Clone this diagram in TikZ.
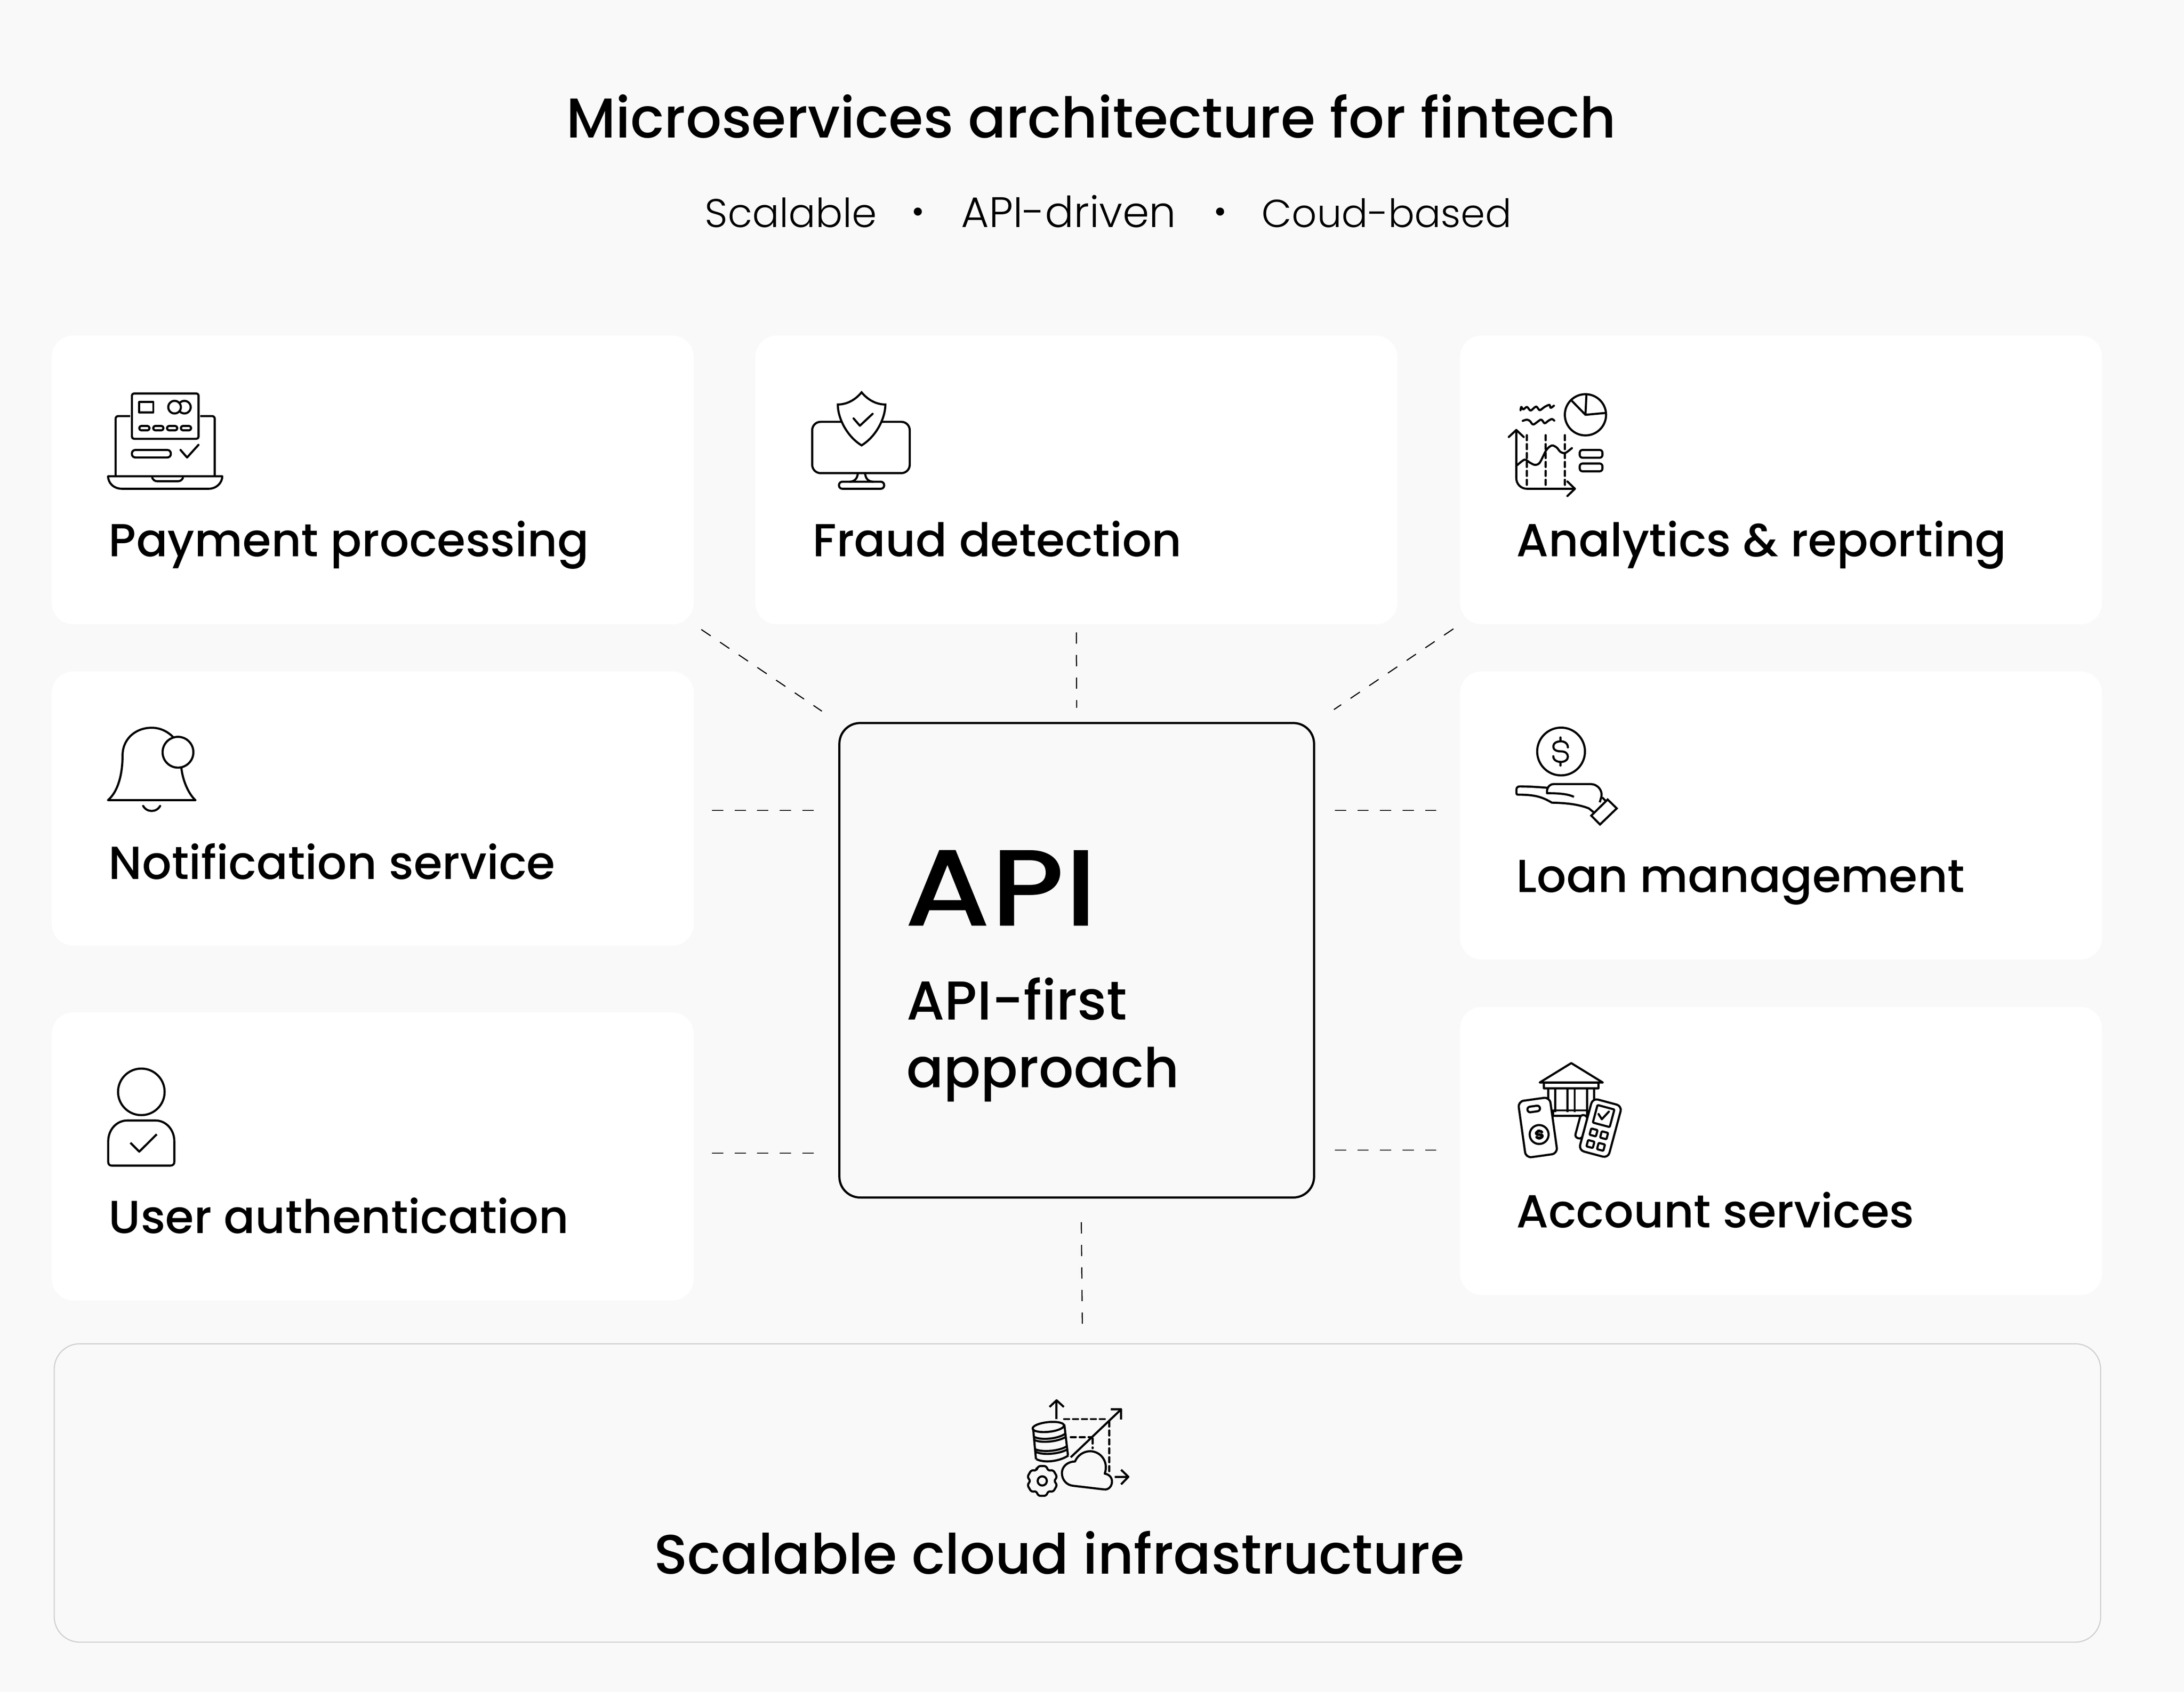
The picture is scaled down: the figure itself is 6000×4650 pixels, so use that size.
\documentclass[tikz,border=0pt]{standalone}
\usepackage{fontspec}
\setmainfont{Poppins}
\newfontfamily\medfont{Poppins}[UprightFont=* Medium]
\newfontfamily\widefont{Poppins}[UprightFont=* Medium,FakeStretch=1.14]
\newfontfamily\lightfont{Poppins}[UprightFont=* Light]
\definecolor{pagebg}{HTML}{F9F9F9}
\definecolor{cloudline}{HTML}{CFCFCF}
\tikzset{
  card/.style={fill=white, rounded corners=6mm, inner sep=0pt, outer sep=0pt, anchor=north west},
  cardtext/.style={anchor=base west, inner sep=0pt, font=\medfont\fontsize{36.2}{40}\selectfont},
  subtext/.style={anchor=base west, inner sep=0pt},
  subdot/.style={anchor=base, inner sep=0pt, font=\medfont\fontsize{24}{28}\selectfont},
  link/.style={line width=0.3mm, dash pattern=on 3.1mm off 3.1mm},
  icon/.style 2 args={shift={(#1,#2)}, x=0.03333mm, y=-0.03333mm, line width=0.58mm, line join=round},
  icondash/.style={dash pattern=on 1.4mm off 1.05mm, line cap=round},
}
\begin{document}
\begin{tikzpicture}[x=0.1mm, y=-0.1mm]
\fill[pagebg] (0,0) rectangle (6000,4650);
\useasboundingbox (0,0) rectangle (6000,4650);

\node[anchor=base, inner sep=0pt, font=\medfont\fontsize{43.9}{50}\selectfont] (title) at (2998,379) {Microservices architecture for fintech};
\node[subtext, font=\lightfont\fontsize{31.3}{38}\selectfont] (subone) at (1936,625) {Scalable};
\node[subdot] (dotone) at (2522,610) {•};
\node[subtext, font=\lightfont\fontsize{33.4}{38}\selectfont] (subtwo) at (2640,625) {API-driven};
\node[subdot] (dottwo) at (3352,610) {•};
\node[subtext, font=\lightfont\fontsize{30.5}{38}\selectfont] (subthree) at (3466,625) {Coud-based};

% cards
\node[card, minimum width=176.4mm, minimum height=79.4mm] (pay) at (142,922) {};
\node[card, minimum width=176.4mm, minimum height=79.4mm] (fraud) at (2075,922) {};
\node[card, minimum width=176.4mm, minimum height=79.4mm] (stats) at (4011,922) {};
\node[card, minimum width=176.4mm, minimum height=75.4mm] (notify) at (142,1845) {};
\node[card, minimum width=176.4mm, minimum height=79.2mm] (loan) at (4011,1845) {};
\node[card, minimum width=176.4mm, minimum height=79.2mm] (user) at (142,2782) {};
\node[card, minimum width=176.4mm, minimum height=79.2mm] (account) at (4011,2767) {};
\node[draw=black, fill=pagebg, line width=0.6mm, rounded corners=5.7mm, minimum width=130.4mm, minimum height=130.4mm, inner sep=0pt, outer sep=0pt, anchor=north west] (api) at (2306,1987) {};
\node[draw=cloudline, fill=pagebg, line width=0.3mm, rounded corners=7mm, minimum width=562.2mm, minimum height=82mm, inner sep=0pt, outer sep=0pt, anchor=north west] (cloud) at (149,3693) {};

\node[cardtext] (paytext) at (298,1530) {Payment processing};
\node[cardtext] (fraudtext) at (2232,1530) {Fraud detection};
\node[cardtext] (statstext) at (4165,1530) {Analytics \& reporting};
\node[cardtext] (notifytext) at (298,2416) {Notification service};
\node[cardtext] (loantext) at (4165,2452) {Loan management};
\node[cardtext] (usertext) at (298,3389) {User authentication};
\node[cardtext] (accounttext) at (4165,3374) {Account services};
\node[anchor=base, inner sep=0pt, font=\medfont\fontsize{43.4}{50}\selectfont] (cloudtext) at (2910,4325) {Scalable cloud infrastructure};
\node[anchor=base west, inner sep=0pt, font=\widefont\fontsize{85}{90}\selectfont] (apitext) at (2484,2545) {API};
\node[anchor=north west, align=left, inner sep=0pt, font=\medfont\fontsize{42.8}{52.7}\selectfont] (apisub) at (2490,2686) {API-first\\approach};

% connectors
\draw[link, shorten <=2.5mm, shorten >=5.8mm] (pay.south east) -- (api.north west);
\draw[link, shorten <=2.2mm, shorten >=4.2mm] (fraud.south) -- (api.north);
\draw[link, shorten <=2.2mm, shorten >=6.6mm] (stats.south west) -- (api.north east);
\draw[link, shorten <=5mm, shorten >=6.9mm] ([yshift=-0.5mm]notify.east) -- ([yshift=-0.5mm]notify.east -| api.west);
\draw[link, shorten <=5mm, shorten >=6.9mm] ([yshift=0.9mm]user.east) -- ([yshift=0.9mm]user.east -| api.west);
\draw[link, shorten <=6.5mm, shorten >=5.4mm] ([yshift=1.4mm]loan.west) -- ([yshift=1.4mm]loan.west -| api.east);
\draw[link, shorten <=6.5mm, shorten >=5.4mm] ([yshift=0.2mm]account.west) -- ([yshift=0.2mm]account.west -| api.east);
\draw[link, shorten <=6.8mm, shorten >=5.5mm] ([xshift=1.2mm]api.south) -- ([xshift=1.4mm]cloud.north);

% laptop
\begin{scope}[icon={250}{1020}]
  \draw[rounded corners=0.6mm] (337,184) rectangle (887,558);
  \draw (398,255) rectangle (514,341);
  \draw (689,297) circle (52);
  \draw (729.5,264.4) arc (-141:141:52);
  \foreach \x in {398,513,627,741}
    \draw[rounded corners=0.55mm] (\x,452) rectangle ++(84,36);
  \draw[rounded corners=0.95mm] (337,650) rectangle (658,712);
  \draw[line cap=round] (738,650) -- (792,712) -- (886,608);
  \draw[rounded corners=0.7mm] (322,371) -- (203,371) -- (203,865);
  \draw[rounded corners=0.7mm] (900,371) -- (1020,371) -- (1020,865);
  \draw (141,867) -- (1082,867) .. controls (1082,925) and (1030,970) .. (970,970) -- (255,970) .. controls (190,970) and (141,925) .. (141,867) -- cycle;
  \draw (503,875) .. controls (510,895) and (525,908) .. (545,908) -- (718,908) .. controls (738,908) and (753,895) .. (760,875);
\end{scope}

% monitor and shield
\begin{scope}[icon={2180}{1040}]
  \draw[rounded corners=2.3mm] (154,358) rectangle (958,781);
  \draw (530,785) .. controls (525,825) and (505,852) .. (460,852);
  \draw (590,785) .. controls (595,825) and (615,852) .. (660,852);
  \draw[rounded corners=0.9mm] (375,852) rectangle (747,910);
  \draw[fill=white, line join=miter] (561,115) .. controls (620,185) and (690,215) .. (757,215) .. controls (757,330) and (680,480) .. (561,552) .. controls (442,480) and (365,330) .. (365,215) .. controls (432,215) and (502,185) .. (561,115) -- cycle;
  \draw[line cap=round] (495,330) -- (547,390) -- (652,292);
\end{scope}

% charts
\begin{scope}[icon={4120}{1040}]
  \draw (707,300) circle (170);
  \draw (715,135) -- (707,300) -- (870,285);
  \draw (707,300) -- (595,185);
  \draw[line cap=round] plot[smooth] coordinates {(172,262) (178,235) (195,255) (225,235) (255,265) (300,232) (330,262) (370,235) (410,218) (420,243) (447,225)};
  \draw[line cap=round] plot[smooth] coordinates {(190,350) (225,340) (250,352) (278,380) (340,340) (370,370) (400,350) (430,335) (450,348)};
  \draw[rounded corners=2.9mm] (137,425) -- (137,910) -- (620,910);
  \draw[line cap=round] (75,483) -- (137,425) -- (198,483);
  \draw[line cap=round] (558,850) -- (620,910) -- (558,970);
  \foreach \x in {224,380,538}
    \draw[icondash] (\x,468) -- (\x,880);
  \draw[line cap=round] plot[smooth] coordinates {(145,715) (205,670) (250,695) (290,713) (330,695) (385,590) (430,553) (470,570) (500,605) (540,615) (595,575)};
  \draw[rounded corners=0.75mm] (660,590) rectangle (847,654);
  \draw[rounded corners=0.75mm] (660,702) rectangle (847,766);
\end{scope}

% hand and coin
\begin{scope}[icon={4120}{1960}]
  \draw (506,316) circle (197);
  \draw[line cap=round] (562,282) .. controls (562,250) and (535,232) .. (505,232) .. controls (465,232) and (442,250) .. (442,275) .. controls (442,300) and (465,315) .. (505,315) .. controls (545,315) and (562,335) .. (562,360) .. controls (562,385) and (535,402) .. (505,402) .. controls (470,402) and (442,385) .. (442,355);
  \draw[line cap=round] (501,200) -- (501,232);
  \draw[line cap=round] (501,402) -- (501,432);
  \draw (390,615) .. controls (300,608) and (240,604) .. (165,604) .. controls (148,604) and (138,615) .. (138,630) -- (138,660) .. controls (138,668) and (142,672) .. (150,672) .. controls (290,672) and (350,690) .. (430,738) .. controls (550,740) and (650,752) .. (735,785) -- (778,820);
  \draw (612,690) .. controls (560,665) and (480,660) .. (400,660) -- (390,660) -- (390,640) .. controls (395,605) and (415,585) .. (445,585) -- (750,585) .. controls (810,585) and (850,640) .. (838,690) -- (825,735);
  \draw (845,695) -- (870,720);
  \draw[line join=miter] (890,712) -- (965,785) -- (827,918) -- (755,845) -- cycle;
\end{scope}

% bank and phones
\begin{scope}[icon={4120}{2890}]
  \draw (330,255) -- (590,95) -- (850,255) -- cycle;
  \draw (365,255) rectangle (813,302);
  \foreach \x in {400,457,560,618,722,778}
    \draw (\x,302) -- (\x,500);
  \draw (440,485) rectangle (720,530);
  \begin{scope}[shift={(314,626)}, rotate=8]
    \draw[fill=white, rounded corners=1.6mm] (-132,-235) rectangle (132,235);
    \draw[rounded corners=0.75mm] (-64,-179) rectangle (40,-133);
    \draw (3,59) circle (78);
    \draw[line width=0.75mm, line cap=round] (28,42) .. controls (25,28) and (-15,28) .. (-20,44) .. controls (-20,68) and (28,52) .. (28,76) .. controls (25,92) and (-15,92) .. (-20,78);
    \draw[line width=0.75mm] (3,18) -- (3,28);
    \draw[line width=0.75mm] (3,90) -- (3,100);
  \end{scope}
  \begin{scope}[shift={(830,631)}, rotate=-15]
    \draw[fill=white, rounded corners=0.9mm] (-185,-68) rectangle (-125,128);
    \draw[fill=white, rounded corners=1.5mm] (-125,-222) rectangle (125,222);
    \draw[rounded corners=0.2mm] (-72,-178) rectangle (72,-28);
    \foreach \x in {-45,45}
      \foreach \y in {49,148}
        \draw[rounded corners=0.25mm] (\x-27,\y-27) rectangle (\x+27,\y+27);
  \end{scope}
  \draw[line cap=round] (815,515) -- (842,558) -- (900,495);
\end{scope}

% bell
\begin{scope}[icon={260}{1970}]
  \draw[line cap=round] (830,687) -- (110,687) .. controls (190,620) and (230,480) .. (230,320) .. controls (230,180) and (340,90) .. (470,90) .. controls (540,90) and (600,120) .. (645,165);
  \draw[line cap=round] (715,420) .. controls (725,520) and (770,630) .. (830,687);
  \draw (687,292) circle (127);
  \draw[line cap=round] (400,735) .. controls (430,790) and (510,790) .. (540,735);
\end{scope}

% person
\begin{scope}[icon={260}{2910}]
  \draw (385,272) circle (192);
  \draw (112,680) .. controls (112,585) and (180,508) .. (270,508) -- (500,508) .. controls (590,508) and (657,585) .. (657,680) -- (657,850) .. controls (657,868) and (645,880) .. (625,880) -- (140,880) .. controls (122,880) and (112,868) .. (112,850) -- cycle;
  \draw (295,692) -- (368,765) -- (512,622);
\end{scope}

% database, gear and cloud
\begin{scope}[icon={2760}{3820}]
  \draw (428,240) -- (428,85);
  \draw (370,140) -- (428,85) -- (488,140);
  \draw[icondash] (490,240) -- (840,240);
  \draw[icondash] (862,260) -- (862,670);
  \draw[icondash] (545,388) -- (715,388);
  \draw[icondash] (725,400) -- (725,480);
  \draw (545,555) -- (960,160);
  \draw (875,160) -- (960,160) -- (960,245);
  \draw (908,716) -- (1020,716);
  \draw (960,658) -- (1020,716) -- (960,778);
  \draw[rotate around={6:(360,305)}] (360,305) ellipse (130 and 40);
  \draw (235,320) -- (258,570);
  \draw (492,285) -- (522,540);
  \draw (240,385) .. controls (300,420) and (450,400) .. (500,360);
  \draw (245,412) .. controls (310,445) and (460,420) .. (505,385);
  \draw (255,490) .. controls (330,520) and (470,495) .. (510,465);
  \draw (255,510) .. controls (330,545) and (470,520) .. (515,490);
  \draw (260,570) .. controls (340,610) and (470,580) .. (525,540);
  \begin{scope}[shift={(310,750)}]
    \draw (0,0) circle (38);
    \draw[rounded corners=0.7mm] (-120:95) \foreach \a in {-90,-30,...,210} { -- (\a-16:128) -- (\a+16:128) -- (\a+30:95) } -- cycle;
  \end{scope}
  \draw[fill=pagebg] (565,790) -- (820,820) .. controls (860,825) and (885,790) .. (885,755) .. controls (885,720) and (860,695) .. (825,690) .. controls (860,590) and (790,505) .. (705,505) .. controls (650,505) and (600,540) .. (580,590) .. controls (520,590) and (472,630) .. (472,685) .. controls (472,740) and (510,785) .. (565,790) -- cycle;
\end{scope}
\end{tikzpicture}
\end{document}
